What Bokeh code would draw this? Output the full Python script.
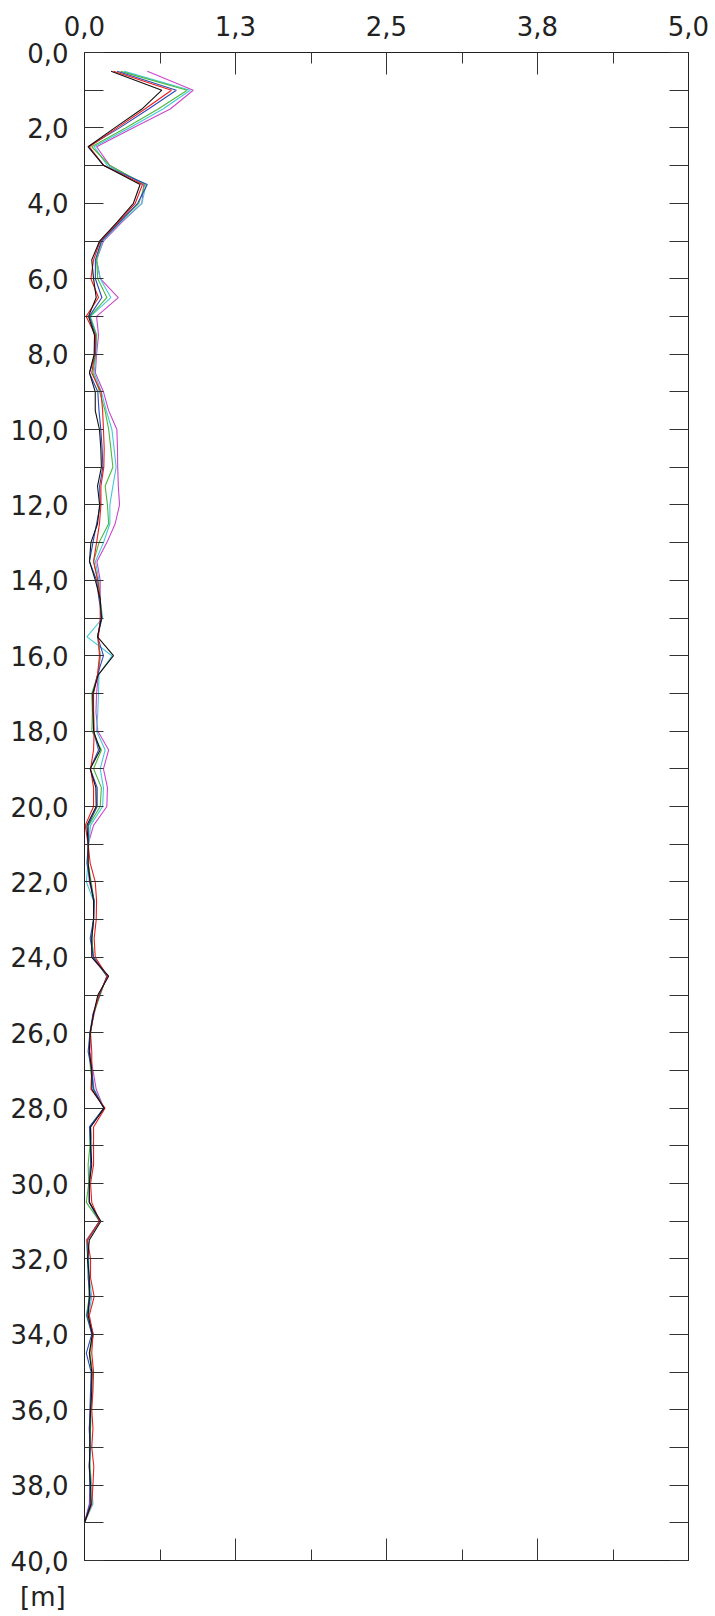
from bokeh.plotting import figure
from bokeh.models import LinearAxis, FixedTicker, CustomJSTickFormatter, Range1d, Div
from bokeh.layouts import column
from bokeh.embed import file_html
from bokeh.resources import INLINE

depth = [0.5, 1.0, 1.5, 2.0, 2.5, 3.0, 3.5, 4.0, 4.5, 5.0, 5.5, 6.0, 6.5, 7.0, 7.5, 8.0,
         8.5, 9.0, 9.5, 10.0, 10.5, 11.0, 11.5, 12.0, 12.5, 13.0, 13.5, 14.0, 14.5, 15.0,
         15.5, 16.0, 16.5, 17.0, 17.5, 18.0, 18.5, 19.0, 19.5, 20.0, 20.5, 21.0, 21.5,
         22.0, 22.5, 23.0, 23.5, 24.0, 24.5, 25.0, 25.5, 26.0, 26.5, 27.0, 27.5, 28.0,
         28.5, 29.0, 29.5, 30.0, 30.5, 31.0, 31.5, 32.0, 32.5, 33.0, 33.5, 34.0, 34.5,
         35.0, 35.5, 36.0, 36.5, 37.0, 37.5, 38.0, 38.5, 39.0]

s_black = [0.22, 0.64, 0.475, 0.25, 0.03, 0.16, 0.46, 0.405, 0.27, 0.125, 0.06, 0.075, 0.097, 0.033, 0.083, 0.08,
           0.041, 0.089, 0.089, 0.124, 0.135, 0.14, 0.108, 0.125, 0.108, 0.053, 0.041, 0.09, 0.13, 0.14,
           0.108, 0.24, 0.115, 0.069, 0.07, 0.075, 0.13, 0.047, 0.094, 0.097, 0.02, 0.03, 0.03,
           0.047, 0.075, 0.075, 0.06, 0.061, 0.20, 0.11, 0.075, 0.047, 0.04, 0.06, 0.061, 0.163,
           0.05, 0.05, 0.06, 0.04, 0.04, 0.136, 0.04, 0.025, 0.04, 0.04, 0.03, 0.065, 0.04,
           0.06, 0.06, 0.05, 0.045, 0.045, 0.04, 0.05, 0.055, 0.0]
s_red = [0.24, 0.72, 0.50, 0.27, 0.04, 0.16, 0.48, 0.42, 0.28, 0.13, 0.075, 0.053, 0.116, 0.014, 0.09, 0.085,
         0.06, 0.136, 0.15, 0.157, 0.163, 0.16, 0.136, 0.136, 0.124, 0.10, 0.075, 0.11, 0.13, 0.13,
         0.115, 0.124, 0.108, 0.075, 0.075, 0.08, 0.075, 0.05, 0.075, 0.075, 0.006, 0.03, 0.047,
         0.089, 0.10, 0.097, 0.08, 0.089, 0.19, 0.12, 0.075, 0.05, 0.06, 0.06, 0.053, 0.17,
         0.075, 0.075, 0.075, 0.05, 0.06, 0.124, 0.025, 0.05, 0.05, 0.08, 0.04, 0.07, 0.06,
         0.075, 0.07, 0.06, 0.07, 0.06, 0.077, 0.07, 0.06, 0.0]
s_blue = [0.27, 0.76, 0.53, 0.29, 0.03, 0.16, 0.52, 0.44, 0.29, 0.14, 0.09, 0.09, 0.144, 0.04, 0.09, 0.09,
          0.041, 0.11, 0.12, 0.135, 0.146, 0.152, 0.125, 0.13, 0.10, 0.07, 0.041, 0.10, 0.12, 0.145,
          0.108, 0.157, 0.108, 0.069, 0.075, 0.075, 0.116, 0.047, 0.105, 0.105, 0.03, 0.033, 0.02,
          0.047, 0.08, 0.075, 0.047, 0.075, 0.185, 0.125, 0.07, 0.045, 0.03, 0.06, 0.075, 0.16,
          0.041, 0.05, 0.05, 0.04, 0.04, 0.124, 0.025, 0.03, 0.03, 0.047, 0.02, 0.06, 0.015,
          0.055, 0.05, 0.045, 0.04, 0.045, 0.04, 0.045, 0.045, 0.0]
s_green = [0.30, 0.85, 0.61, 0.34, 0.06, 0.21, 0.50, 0.45, 0.29, 0.14, 0.10, 0.11, 0.185, 0.045, 0.10, 0.09,
           0.07, 0.125, 0.17, 0.20, 0.218, 0.235, 0.171, 0.19, 0.20, 0.12, 0.075, 0.11, 0.13, 0.14,
           0.108, 0.13, 0.11, 0.06, 0.065, 0.061, 0.14, 0.075, 0.14, 0.13, 0.035, 0.033, 0.03,
           0.055, 0.08, 0.075, 0.06, 0.075, 0.185, 0.13, 0.075, 0.05, 0.04, 0.05, 0.075, 0.16,
           0.045, 0.045, 0.03, 0.035, 0.015, 0.124, 0.02, 0.025, 0.035, 0.04, 0.015, 0.065, 0.045,
           0.065, 0.055, 0.05, 0.05, 0.04, 0.045, 0.05, 0.05, 0.0]
s_cyan = [0.33, 0.875, 0.65, 0.37, 0.08, 0.19, 0.51, 0.475, 0.30, 0.15, 0.10, 0.13, 0.218, 0.05, 0.10, 0.095,
          0.08, 0.14, 0.18, 0.227, 0.245, 0.262, 0.235, 0.21, 0.21, 0.157, 0.09, 0.12, 0.13, 0.15,
          0.02, 0.227, 0.12, 0.116, 0.11, 0.10, 0.171, 0.13, 0.157, 0.15, 0.05, 0.035, 0.03,
          0.015, 0.075, 0.075, 0.06, 0.075, 0.19, 0.12, 0.075, 0.047, 0.04, 0.06, 0.08, 0.16,
          0.05, 0.06, 0.05, 0.04, 0.04, 0.124, 0.025, 0.035, 0.04, 0.06, 0.035, 0.07, 0.045,
          0.06, 0.06, 0.055, 0.05, 0.05, 0.045, 0.06, 0.07, 0.0]
s_magenta = [0.52, 0.90, 0.71, 0.40, 0.10, 0.21, 0.49, 0.475, 0.31, 0.157, 0.10, 0.13, 0.28, 0.10, 0.116, 0.10,
             0.09, 0.157, 0.20, 0.268, 0.273, 0.275, 0.28, 0.29, 0.254, 0.185, 0.103, 0.13, 0.13, 0.14,
             0.108, 0.13, 0.115, 0.10, 0.095, 0.11, 0.20, 0.157, 0.19, 0.185, 0.075, 0.03, 0.03,
             0.04, 0.08, 0.075, 0.06, 0.061, 0.19, 0.12, 0.08, 0.047, 0.045, 0.07, 0.097, 0.16,
             0.05, 0.06, 0.05, 0.04, 0.04, 0.124, 0.015, 0.03, 0.035, 0.047, 0.03, 0.075, 0.04,
             0.065, 0.05, 0.05, 0.04, 0.045, 0.04, 0.045, 0.04, 0.0]

series = [
    ("#cc44cc", s_magenta),
    ("#44c8d8", s_cyan),
    ("#4cb83a", s_green),
    ("#2a4cb8", s_blue),
    ("#ee1c1c", s_red),
    ("#111111", s_black),
]

x_major = [0.0, 1.25, 2.5, 3.75, 5.0]
x_minor = [0.625, 1.875, 3.125, 4.375]
y_major = [0, 2, 4, 6, 8, 10, 12, 14, 16, 18, 20, 22, 24, 26, 28, 30, 32, 34, 36, 38, 40]
y_minor = [1, 3, 5, 7, 9, 11, 13, 15, 17, 19, 21, 23, 25, 27, 29, 31, 33, 35, 37, 39]
y_all = sorted(y_major + y_minor)
unit_text = "[m]"

FONT = "DejaVu Sans"
FSIZE = "26px"
TXT = "#222222"
TICK = "#333333"

fmt = CustomJSTickFormatter(code="return tick.toFixed(1).replace('.', ',')")

p = figure(width=712, height=1582, x_range=Range1d(0, 5), y_range=Range1d(40, 0),
           x_axis_location="above", y_axis_location="left",
           output_backend="svg", toolbar_location=None,
           min_border_left=84, min_border_right=24, min_border_top=52, min_border_bottom=22)
p.grid.visible = False
p.outline_line_color = "#222222"
p.outline_line_width = 1
p.background_fill_color = "white"
p.border_fill_color = "white"

for col, vals in series:
    p.line(vals, depth, line_color=col, line_width=1.1)

# top axis
xa = p.xaxis[0]
xa.ticker = FixedTicker(ticks=x_major, minor_ticks=x_minor)
xa.formatter = fmt
xa.major_tick_in = 22
xa.major_tick_out = 0
xa.minor_tick_in = 11
xa.minor_tick_out = 0
xa.major_tick_line_color = TICK
xa.minor_tick_line_color = TICK
xa.axis_line_color = "#222222"
xa.major_label_text_font = FONT
xa.major_label_text_font_size = FSIZE
xa.major_label_text_color = TXT
xa.major_label_standoff = 17

# left axis
ya = p.yaxis[0]
ya.ticker = FixedTicker(ticks=y_major, minor_ticks=y_minor)
ya.formatter = fmt
ya.major_tick_in = 19
ya.major_tick_out = 0
ya.minor_tick_in = 19
ya.minor_tick_out = 0
ya.major_tick_line_color = TICK
ya.minor_tick_line_color = TICK
ya.axis_line_color = "#222222"
ya.major_label_text_font = FONT
ya.major_label_text_font_size = FSIZE
ya.major_label_text_color = TXT
ya.major_label_standoff = 16

# bottom axis (ticks only)
xb = LinearAxis(ticker=FixedTicker(ticks=x_major, minor_ticks=x_minor))
xb.major_tick_in = 22
xb.major_tick_out = 0
xb.minor_tick_in = 11
xb.minor_tick_out = 0
xb.major_tick_line_color = TICK
xb.minor_tick_line_color = TICK
xb.axis_line_color = "#222222"
xb.major_label_text_font_size = "0px"
xb.major_label_standoff = 0
p.add_layout(xb, "below")

# right axis (ticks only)
yr = LinearAxis(ticker=FixedTicker(ticks=y_all))
yr.major_tick_in = 19
yr.major_tick_out = 0
yr.minor_tick_line_color = None
yr.major_tick_line_color = TICK
yr.axis_line_color = "#222222"
yr.major_label_text_font_size = "0px"
yr.major_label_standoff = 0
p.add_layout(yr, "right")

unit = Div(text=unit_text, width=120, height=32, margin=(0, 0, 0, 0),
           styles={"font-family": FONT, "font-size": FSIZE, "color": TXT,
                   "line-height": "30px", "padding-left": "20px"})

layout = column(p, unit, spacing=0)

open("out.html", "w").write(file_html(layout, INLINE))
